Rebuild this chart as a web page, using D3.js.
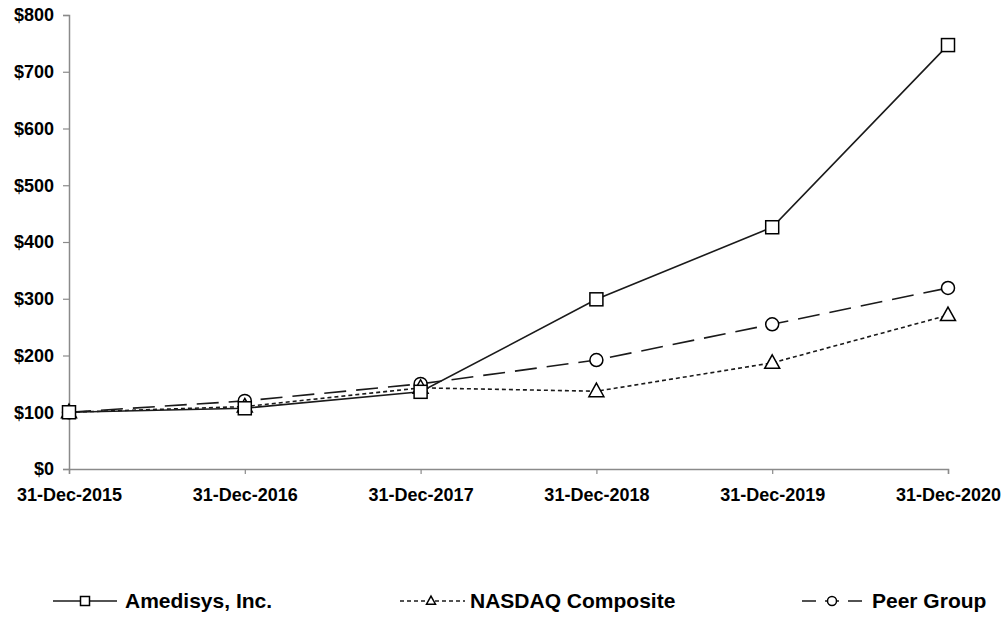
<!DOCTYPE html>
<html>
<head>
<meta charset="utf-8">
<script src="https://cdn.jsdelivr.net/npm/d3@7"></script>
<style>
  body { margin: 0; background: #fff; }
  text { font-family: "Liberation Sans", Arial, sans-serif; font-weight: bold; fill: #000; }
</style>
</head>
<body>
<div id="chart"></div>
<script>
// Step 1: data
//= ================================
var years = ["31-Dec-2015", "31-Dec-2016", "31-Dec-2017", "31-Dec-2018", "31-Dec-2019", "31-Dec-2020"];
var amedisys = [100, 107, 136, 299, 426, 747];
var nasdaq = [100, 110, 143, 137, 187, 271];
var peer = [100, 120, 150, 192, 255, 319];
var yTicks = [0, 100, 200, 300, 400, 500, 600, 700, 800];

var series = [
  { name: "Amedisys, Inc.", values: amedisys, dash: null, shape: "square" },
  { name: "NASDAQ Composite", values: nasdaq, dash: "4,3", shape: "triangle" },
  { name: "Peer Group", values: peer, dash: "22,10", shape: "circle" }
];

// Step 2: chart size
//= ================================
var svgWidth = 1006;
var svgHeight = 617;

var margin = { top: 15, left: 69, right: 58, bottom: 148 };
var width = svgWidth - margin.left - margin.right;
var height = svgHeight - margin.top - margin.bottom;

var svg = d3.select("#chart")
  .append("svg")
  .attr("width", svgWidth)
  .attr("height", svgHeight);

var chartGroup = svg.append("g")
  .attr("transform", `translate(${margin.left}, ${margin.top})`);

// scales
var xScale = d3.scalePoint()
  .domain(years)
  .range([0, width]);

var yScale = d3.scaleLinear()
  .domain([0, 800])
  .range([height, 0]);

// axes
var leftAxis = d3.axisLeft(yScale)
  .tickValues(yTicks)
  .tickSize(6)
  .tickPadding(9)
  .tickFormat(d => "$" + d);

var bottomAxis = d3.axisBottom(xScale)
  .tickSize(5)
  .tickPadding(14);

var yAxis = chartGroup.append("g")
  .call(leftAxis);

var xAxis = chartGroup.append("g")
  .attr("transform", `translate(0, ${height})`)
  .call(bottomAxis);

[xAxis, yAxis].forEach(function(ax) {
  ax.select(".domain").attr("stroke", "#8a8a8a").attr("stroke-width", 1.5);
  ax.selectAll(".tick line").attr("stroke", "#8a8a8a").attr("stroke-width", 1.2);
  ax.selectAll("text")
    .attr("font-size", 18)
    .attr("font-family", "Liberation Sans, Arial, sans-serif")
    .attr("font-weight", "bold")
    .attr("fill", "#000");
});

// markers
function drawMarker(g, shape, x, y, s) {
  if (shape === "square") {
    g.append("rect")
      .attr("x", x - s / 2).attr("y", y - s / 2)
      .attr("width", s).attr("height", s)
      .attr("fill", "#fff").attr("stroke", "#000").attr("stroke-width", 1.5);
  } else if (shape === "circle") {
    g.append("circle")
      .attr("cx", x).attr("cy", y).attr("r", s / 2)
      .attr("fill", "#fff").attr("stroke", "#000").attr("stroke-width", 1.5);
  } else {
    var h = s * 0.9;
    g.append("path")
      .attr("d", `M${x},${y - h * 0.6}L${x + s / 2},${y + h * 0.4}L${x - s / 2},${y + h * 0.4}Z`)
      .attr("fill", "#fff").attr("stroke", "#000").attr("stroke-width", 1.5);
  }
}

var line = d3.line()
  .x((d, i) => xScale(years[i]))
  .y(d => yScale(d));

// lines, drawn bottom to top
series.slice().reverse().forEach(function(s) {
  chartGroup.append("path")
    .datum(s.values)
    .attr("d", line)
    .attr("fill", "none")
    .attr("stroke", "#1a1a1a")
    .attr("stroke-width", 1.6)
    .attr("stroke-dasharray", s.dash);
});

series.slice().reverse().forEach(function(s) {
  var mg = chartGroup.append("g");
  s.values.forEach(function(v, i) {
    drawMarker(mg, s.shape, xScale(years[i]), yScale(v), s.shape === "triangle" ? 15 : 13);
  });
});

// legend
var legendItems = [
  { x0: 53, x1: 117, mx: 85, tx: 125 },
  { x0: 400, x1: 465, mx: 431, tx: 470 },
  { x0: 802, x1: 866, mx: 832, tx: 872 }
];

var legend = svg.append("g");
series.forEach(function(s, i) {
  var it = legendItems[i];
  var ly = 601;
  legend.append("line")
    .attr("x1", it.x0).attr("x2", it.x1)
    .attr("y1", ly).attr("y2", ly)
    .attr("stroke", "#1a1a1a")
    .attr("stroke-width", 1.6)
    .attr("stroke-dasharray", s.dash === "22,10" ? "14,9" : s.dash);
  drawMarker(legend, s.shape, it.mx, ly, 9);
  legend.append("text")
    .attr("x", it.tx)
    .attr("y", 608)
    .attr("font-size", 21)
    .text(s.name);
});
</script>
</body>
</html>
